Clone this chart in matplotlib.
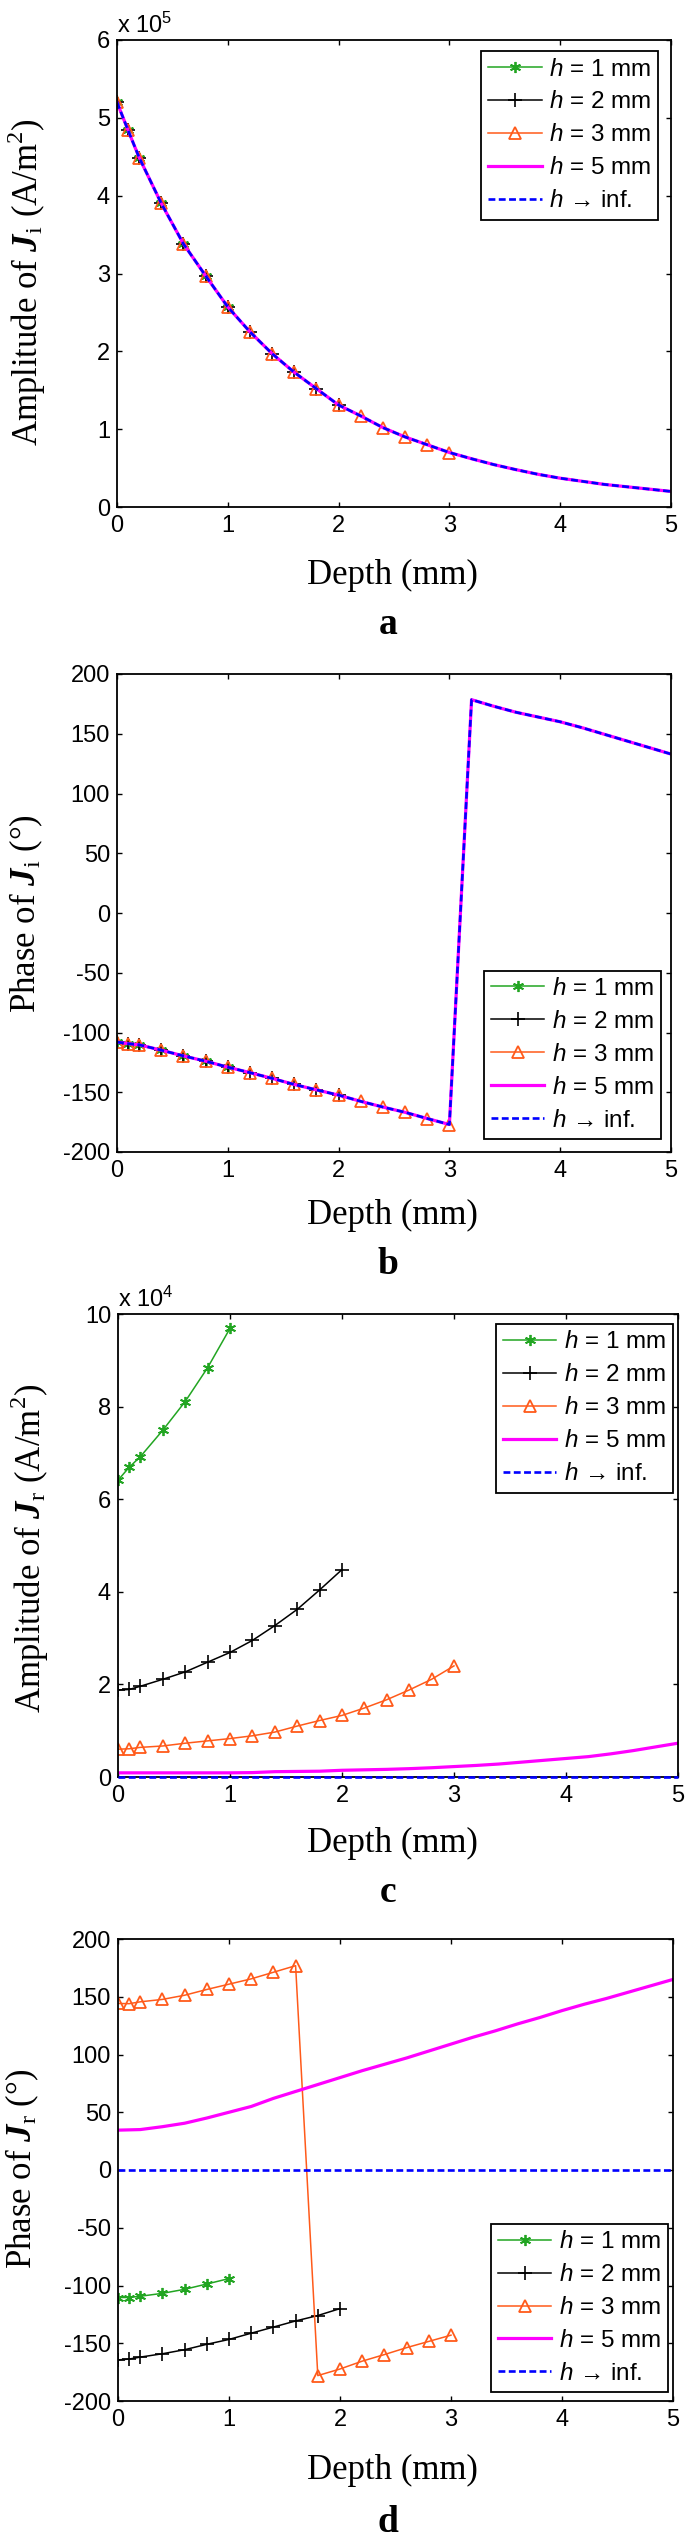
import matplotlib
matplotlib.use('Agg')
import matplotlib.pyplot as plt
from matplotlib.ticker import FuncFormatter

plt.rcParams['font.family'] = ['Liberation Sans', 'DejaVu Sans']
plt.rcParams['mathtext.fontset'] = 'custom'
plt.rcParams['mathtext.rm'] = 'Liberation Serif'
plt.rcParams['mathtext.it'] = 'Liberation Sans:italic'
plt.rcParams['mathtext.bf'] = 'Liberation Serif:bold'
plt.rcParams['mathtext.bfit'] = 'Liberation Serif:bold:italic'
plt.rcParams['mathtext.sf'] = 'Liberation Sans'
plt.rcParams['axes.unicode_minus'] = False

# ---------------- data ----------------
# shared depth grid (mm) for panels a and b
depth = [0, 0.1, 0.2, 0.4, 0.6, 0.8, 1.0, 1.2, 1.4, 1.6, 1.8, 2.0, 2.2, 2.4,
         2.6, 2.8, 3.0, 3.2, 3.4, 3.6, 3.8, 4.0, 4.2, 4.4, 4.6, 4.8, 5.0]
# amplitude of Ji (A/m^2) - identical for all h
amp_i = [5.20e5, 4.84e5, 4.49e5, 3.90e5, 3.38e5, 2.97e5, 2.57e5, 2.25e5, 1.97e5,
         1.73e5, 1.52e5, 1.31e5, 1.17e5, 1.02e5, 0.90e5, 0.80e5, 0.70e5,
         0.62e5, 0.545e5, 0.48e5, 0.42e5, 0.37e5, 0.33e5, 0.29e5, 0.26e5, 0.23e5, 0.20e5]
# phase of Ji (deg) - identical for all h
phase_i = [-108, -109.3, -110.3, -114.8, -119.6, -124, -129, -133.6, -138.4,
           -143.5, -148, -152.4, -157.6, -162.4, -166.8, -172, -177,
           178.5, 173, 168, 164, 160, 155, 149.5, 144, 138.5, 133]

# number of points of depth grid covered by each h
n_h1, n_h2, n_h3 = 7, 12, 17

# panel c: amplitude of Jr
x_h1 = [0, 0.1, 0.2, 0.4, 0.6, 0.8, 1.0]
x_h2 = [0, 0.1, 0.2, 0.4, 0.6, 0.8, 1.0, 1.2, 1.4, 1.6, 1.8, 2.0]
x_h3 = [0, 0.1, 0.2, 0.4, 0.6, 0.8, 1.0, 1.2, 1.4, 1.6, 1.8, 2.0, 2.2, 2.4, 2.6, 2.8, 3.0]
x_h5 = [0, 0.2, 0.4, 0.6, 0.8, 1.0, 1.2, 1.4, 1.6, 1.8, 2.0, 2.2, 2.4, 2.6, 2.8,
        3.0, 3.2, 3.4, 3.6, 3.8, 4.0, 4.2, 4.4, 4.6, 4.8, 5.0]
x_inf = [0, 5]

ampr_h1 = [6.41e4, 6.69e4, 6.92e4, 7.49e4, 8.11e4, 8.84e4, 9.69e4]
ampr_h2 = [1.88e4, 1.89e4, 1.96e4, 2.11e4, 2.27e4, 2.48e4, 2.69e4, 2.95e4, 3.27e4,
           3.62e4, 4.04e4, 4.48e4]
ampr_h3 = [0.60e4, 0.61e4, 0.64e4, 0.67e4, 0.73e4, 0.78e4, 0.83e4, 0.89e4, 0.97e4,
           1.10e4, 1.22e4, 1.33e4, 1.49e4, 1.67e4, 1.88e4, 2.11e4, 2.40e4]
ampr_h5 = [0.09e4, 0.09e4, 0.09e4, 0.09e4, 0.09e4, 0.09e4, 0.095e4, 0.115e4, 0.12e4,
           0.125e4, 0.145e4, 0.155e4, 0.165e4, 0.18e4, 0.20e4, 0.225e4, 0.25e4,
           0.28e4, 0.32e4, 0.36e4, 0.40e4, 0.44e4, 0.50e4, 0.57e4, 0.65e4, 0.73e4]
ampr_inf = [0, 0]

# panel d: phase of Jr
phr_h1 = [-110.4, -110.4, -109.3, -106.8, -103.3, -98.7, -94]
phr_h2 = [-164.4, -163.7, -162, -159.1, -155.6, -150.9, -146.7, -141.3, -136,
          -130.7, -126, -120]
phr_h3 = [144.2, 144, 145.6, 147.7, 151.3, 156.3, 160.9, 165.5, 171.2, 176.9,
          -178, -172.3, -165.5, -159.8, -153.8, -148.4, -143]
phr_h5 = [34.5, 35, 37.5, 40.5, 45, 50, 55, 62, 68, 74, 80, 86, 91.5, 97, 103,
          109, 115, 120.5, 126.5, 132, 138, 143.5, 148.5, 154, 159.5, 165]
phr_inf = [0, 0]

labels = ['$h$ = 1 mm', '$h$ = 2 mm', '$h$ = 3 mm', '$h$ = 5 mm', '$h$ \u2192 inf.']

# ---------------- styles ----------------
GREEN = '#22A522'
ORANGE = '#FF5A1A'
MAG = '#FF00FF'
BLUE = '#0000FF'
st1 = dict(color=GREEN, lw=1.1, marker=(6, 2, 0), ms=8, mew=1.3)
st2 = dict(color='black', lw=1.1, marker='+', ms=10, mew=1.2)
st3 = dict(color=ORANGE, lw=1.1, marker='^', ms=9, mfc='none', mew=1.3)
st5 = dict(color=MAG, lw=2.3)
stinf = dict(color=BLUE, lw=1.9, ls=(0, (2.6, 1.3)))

W, H = 685, 2544
fig = plt.figure(figsize=(W / 100, H / 100), dpi=100)


def add_ax(l, r, t, b):
    return fig.add_axes([l / W, 1 - b / H, (r - l) / W, (b - t) / H])


def style(ax):
    for s in ax.spines.values():
        s.set_linewidth(1.3)
    ax.tick_params(direction='in', top=True, right=True, length=3.3, width=1.0,
                   labelsize=17)
    ax.tick_params(axis='x', pad=6.0)
    ax.tick_params(axis='y', pad=5)
    ax.set_xlim(0, 5)
    ax.set_xticks([0, 1, 2, 3, 4, 5])


def legend(ax, loc, anchor):
    lg = ax.legend(labels, loc=loc, bbox_to_anchor=anchor, fontsize=17.5,
                   frameon=True, fancybox=False, framealpha=1, edgecolor='black',
                   borderpad=0.3, handlelength=2.2, handletextpad=0.3,
                   labelspacing=0.45, borderaxespad=0)
    lg.get_frame().set_linewidth(1.3)


def ftext(x, y, s, **kw):
    fig.text(x / W, 1 - y / H, s, **kw)


SERIF = ['Liberation Serif', 'DejaVu Serif']
LBL = 25

# ---------------- panel a ----------------
ax = add_ax(117, 671, 40, 507)
style(ax)
ax.plot(depth[:n_h1], amp_i[:n_h1], **st1)
ax.plot(depth[:n_h2], amp_i[:n_h2], **st2)
ax.plot(depth[:n_h3], amp_i[:n_h3], **st3)
ax.plot(depth, amp_i, **st5)
ax.plot(depth, amp_i, **stinf)
ax.set_ylim(0, 6e5)
ax.set_yticks([0, 1e5, 2e5, 3e5, 4e5, 5e5, 6e5])
ax.yaxis.set_major_formatter(FuncFormatter(lambda v, p: '%d' % round(v / 1e5)))
legend(ax, 'upper right', (0.977, 0.976))
ftext(117, 33, 'x 10$^{\\mathsf{5}}$', fontsize=17, ha='left', va='baseline')
ftext(27, 282, 'Amplitude of $\\mathbfit{J}_{\\mathrm{i}}$ (A/m$^{2}$)', rotation=90,
      fontsize=LBL, family=SERIF, ha='center', va='center')
ftext(392, 575, 'Depth (mm)', fontsize=LBL, family=SERIF, ha='center', va='center')
ftext(388, 625, 'a', fontsize=27, family=SERIF, weight='bold', ha='center', va='center')

# ---------------- panel b ----------------
ax = add_ax(117, 671, 674, 1152)
style(ax)
ax.plot(depth[:n_h1], phase_i[:n_h1], **st1)
ax.plot(depth[:n_h2], phase_i[:n_h2], **st2)
ax.plot(depth[:n_h3], phase_i[:n_h3], **st3)
ax.plot(depth, phase_i, **st5)
ax.plot(depth, phase_i, **stinf)
ax.set_ylim(-200, 200)
ax.set_yticks([-200, -150, -100, -50, 0, 50, 100, 150, 200])
legend(ax, 'lower right', (0.982, 0.027))
ftext(26, 914, 'Phase of $\\mathbfit{J}_{\\mathrm{i}}$ (\u00b0)', rotation=90,
      fontsize=LBL, family=SERIF, ha='center', va='center')
ftext(392, 1215, 'Depth (mm)', fontsize=LBL, family=SERIF, ha='center', va='center')
ftext(388, 1264, 'b', fontsize=27, family=SERIF, weight='bold', ha='center', va='center')

# ---------------- panel c ----------------
ax = add_ax(118, 678, 1314, 1777)
style(ax)
ax.plot(x_h1, ampr_h1, **st1)
ax.plot(x_h2, ampr_h2, **st2)
ax.plot(x_h3, ampr_h3, **st3)
ax.plot(x_h5, ampr_h5, **st5)
ax.plot(x_inf, ampr_inf, clip_on=False, zorder=5, **stinf)
ax.set_ylim(0, 1e5)
ax.set_yticks([0, 2e4, 4e4, 6e4, 8e4, 10e4])
ax.yaxis.set_major_formatter(FuncFormatter(lambda v, p: '%d' % round(v / 1e4)))
legend(ax, 'upper right', (0.991, 0.978))
ftext(118, 1307, 'x 10$^{\\mathsf{4}}$', fontsize=17, ha='left', va='baseline')
ftext(30, 1548, 'Amplitude of $\\mathbfit{J}_{\\mathrm{r}}$ (A/m$^{2}$)', rotation=90,
      fontsize=LBL, family=SERIF, ha='center', va='center')
ftext(392, 1843, 'Depth (mm)', fontsize=LBL, family=SERIF, ha='center', va='center')
ftext(388, 1892, 'c', fontsize=27, family=SERIF, weight='bold', ha='center', va='center')

# ---------------- panel d ----------------
ax = add_ax(118, 673, 1939, 2401)
style(ax)
ax.plot(x_h1, phr_h1, **st1)
ax.plot(x_h2, phr_h2, **st2)
ax.plot(x_h3, phr_h3, **st3)
ax.plot(x_h5, phr_h5, **st5)
ax.plot(x_inf, phr_inf, **stinf)
ax.set_ylim(-200, 200)
ax.set_yticks([-200, -150, -100, -50, 0, 50, 100, 150, 200])
legend(ax, 'lower right', (0.991, 0.019))
ftext(22, 2169, 'Phase of $\\mathbfit{J}_{\\mathrm{r}}$ (\u00b0)', rotation=90,
      fontsize=LBL, family=SERIF, ha='center', va='center')
ftext(392, 2470, 'Depth (mm)', fontsize=LBL, family=SERIF, ha='center', va='center')
ftext(388, 2523, 'd', fontsize=27, family=SERIF, weight='bold', ha='center', va='center')

fig.savefig('out.png', dpi=100)
